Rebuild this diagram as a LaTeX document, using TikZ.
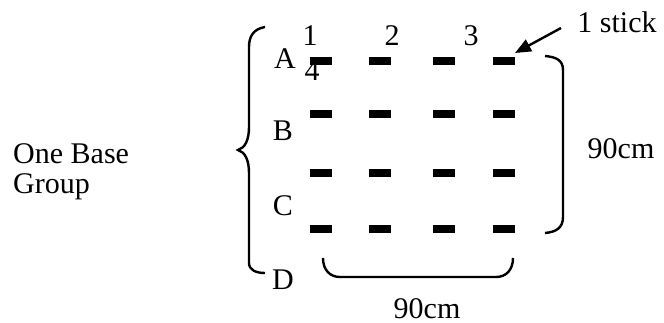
\documentclass[tikz,border=0pt]{standalone}
\usepackage{fontspec}
\setmainfont{Liberation Serif}
\usetikzlibrary{arrows.meta}
\begin{document}
\begin{tikzpicture}[x=0.5pt,y=-0.5pt,
  line width=1.2pt,
  every node/.style={font=\fontsize{15}{18}\selectfont, inner sep=0pt},
  stickbar/.style={fill=black, draw=none, rectangle, minimum width=11pt, minimum height=4.2pt},
  lbl/.style={anchor=base},
  pointer/.style={-{Triangle[length=8pt,width=6.5pt]}, line width=1.2pt}
]
\useasboundingbox (0,0) rectangle (664,322);

% grid of sticks: rows A..D, columns 1..4
\foreach \r/\y in {1/61,2/114,3/173,4/229}{
  \foreach \c/\x in {1/321,2/380,3/444,4/504}{
    \node[stickbar] (s\r\c) at (\x,\y) {};
  }
}

% column numbers
\node[lbl] (n1) at (310,45) {1};
\node[lbl] (n2) at (392,45) {2};
\node[lbl] (n3) at (471,45) {3};
\node[lbl] (n4) at (312,80) {4};

% row letters
\node[lbl] (ra) at (285,68) {A};
\node[lbl] (rb) at (283,140) {B};
\node[lbl] (rc) at (283,215) {C};
\node[lbl] (rd) at (283,289) {D};

% group label
\node[anchor=base west] (g1) at (12,163) {One Base};
\node[anchor=base west] (g2) at (12,193) {Group};

% dimension labels
\node[lbl] (dimh) at (427,318) {90cm};
\node[lbl] (dimv) at (621,158) {90cm};

% stick callout
\node[lbl] (stk) at (617,32) {1 stick};
\coordinate (tail) at (561,28);
\draw[pointer] (tail) -- (515,53);

% left brace around the rows
\draw (265,27) .. controls (253,29) and (249,37) .. (249,47) -- (249,127)
  .. controls (249,140) and (245,148) .. (238,150)
  .. controls (245,152) and (249,160) .. (249,173) -- (249,263)
  .. controls (249,270) and (256,273) .. (265,273);

% right bracket (vertical spacing)
\draw (545,56) .. controls (556,57) and (563,60) .. (563,70) -- (563,217)
  .. controls (563,228) and (556,232) .. (545,233);

% bottom bracket (horizontal spacing)
\draw (323,258) .. controls (323,270) and (330,277) .. (340,277) -- (496,277)
  .. controls (506,277) and (513,270) .. (513,258);
\end{tikzpicture}
\end{document}
